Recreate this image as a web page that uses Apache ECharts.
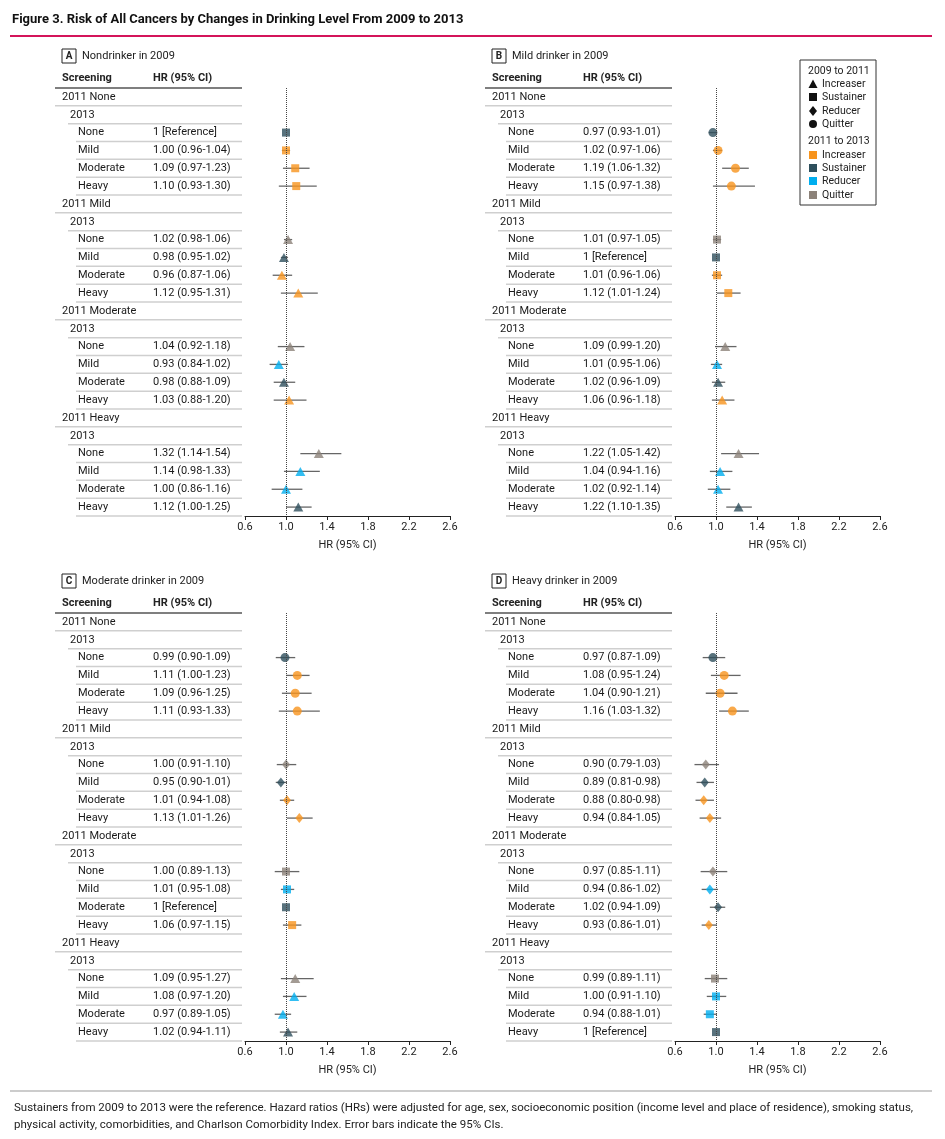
<!DOCTYPE html>
<html><head><meta charset="utf-8">
<script src="https://cdn.jsdelivr.net/npm/echarts@6/dist/echarts.min.js"></script>
<style>html,body{margin:0;padding:0;background:#fff}#c{width:945px;height:1139px}</style>
</head><body><div id="c"></div>
<script>
const levels = ['None','Mild','Moderate','Heavy'];
const panelTitles = ['Nondrinker in 2009','Mild drinker in 2009','Moderate drinker in 2009','Heavy drinker in 2009'];
const panelLetters = ['A','B','C','D'];
const tickLabels = ['0.6','1.0','1.4','1.8','2.2','2.6'];
// order: 2011 None (2013 None,Mild,Mod,Heavy), 2011 Mild, 2011 Moderate, 2011 Heavy ; null = reference
const A_hr = [1,1.00,1.09,1.10, 1.02,0.98,0.96,1.12, 1.04,0.93,0.98,1.03, 1.32,1.14,1.00,1.12];
const A_lo = [null,0.96,0.97,0.93, 0.98,0.95,0.87,0.95, 0.92,0.84,0.88,0.88, 1.14,0.98,0.86,1.00];
const A_hi = [null,1.04,1.23,1.30, 1.06,1.02,1.06,1.31, 1.18,1.02,1.09,1.20, 1.54,1.33,1.16,1.25];
const B_hr = [0.97,1.02,1.19,1.15, 1.01,1,1.01,1.12, 1.09,1.01,1.02,1.06, 1.22,1.04,1.02,1.22];
const B_lo = [0.93,0.97,1.06,0.97, 0.97,null,0.96,1.01, 0.99,0.95,0.96,0.96, 1.05,0.94,0.92,1.10];
const B_hi = [1.01,1.06,1.32,1.38, 1.05,null,1.06,1.24, 1.20,1.06,1.09,1.18, 1.42,1.16,1.14,1.35];
const C_hr = [0.99,1.11,1.09,1.11, 1.00,0.95,1.01,1.13, 1.00,1.01,1,1.06, 1.09,1.08,0.97,1.02];
const C_lo = [0.90,1.00,0.96,0.93, 0.91,0.90,0.94,1.01, 0.89,0.95,null,0.97, 0.95,0.97,0.89,0.94];
const C_hi = [1.09,1.23,1.25,1.33, 1.10,1.01,1.08,1.26, 1.13,1.08,null,1.15, 1.27,1.20,1.05,1.11];
const D_hr = [0.97,1.08,1.04,1.16, 0.90,0.89,0.88,0.94, 0.97,0.94,1.02,0.93, 0.99,1.00,0.94,1];
const D_lo = [0.87,0.95,0.90,1.03, 0.79,0.81,0.80,0.84, 0.85,0.86,0.94,0.86, 0.89,0.91,0.88,null];
const D_hi = [1.09,1.24,1.21,1.32, 1.03,0.98,0.98,1.05, 1.11,1.02,1.09,1.01, 1.11,1.10,1.01,null];
const panels = [[A_hr,A_lo,A_hi],[B_hr,B_lo,B_hi],[C_hr,C_lo,C_hi],[D_hr,D_lo,D_hi]];

const COL = {inc:'#f7941d', sus:'#2e4f5c', red:'#00aeef', quit:'#8c8279'};
const FONT = 'Roboto, "Liberation Sans", sans-serif';

// rows
const rows = [];
levels.forEach((g,gi)=>{
  rows.push({label:'2011 '+g, level:0});
  rows.push({label:'2013', level:1});
  levels.forEach((k,ki)=>rows.push({label:k, level:2, g:gi, k:ki}));
});
const cats = rows.map((r,i)=>String(i));

const pos = [
  {tl:62, pl:245, top:88},
  {tl:492, pl:675, top:88},
  {tl:62, pl:245, top:613},
  {tl:492, pl:675, top:613}
];
const H = 428;

const grids=[], xAxes=[], yAxes=[], series=[], graphics=[];
function shapeFor(p,g){ if(g>p) return 'triangle'; if(g===p) return 'rect'; if(g>0) return 'diamond'; return 'circle'; }
function colorFor(g,k){ if(k>g) return COL.inc; if(k===g) return COL.sus; if(k>0) return COL.red; return COL.quit; }

panels.forEach((pd,p)=>{
  const [hr,lo,hi] = pd;
  const P = pos[p];
  // table grid
  grids.push({left:P.tl, top:P.top, width:190, height:H});
  xAxes.push({type:'value', gridIndex:2*p, min:0, max:190, show:false});
  yAxes.push({type:'category', gridIndex:2*p, data:cats, inverse:true, show:false});
  // plot grid
  grids.push({left:P.pl, top:P.top, width:205, height:H});
  xAxes.push({type:'value', gridIndex:2*p+1, min:0.6, max:2.6, interval:0.4,
    axisLine:{show:true, lineStyle:{color:'#222', width:1}},
    axisTick:{show:true, length:4, lineStyle:{color:'#222'}},
    splitLine:{show:false},
    axisLabel:{color:'#222', fontSize:11, fontFamily:FONT, margin:6,
      formatter:v=>{const s=v.toFixed(1); return tickLabels.includes(s)?s:'';}},
    name:'HR (95% CI)', nameLocation:'middle', nameGap:24,
    nameTextStyle:{color:'#222', fontSize:11, fontFamily:FONT}});
  yAxes.push({type:'category', gridIndex:2*p+1, data:cats, inverse:true, show:false});

  // table text
  const tdata = rows.map((r,i)=>{
    let t2='';
    if(r.level===2){ const j=r.g*4+r.k;
      t2 = lo[j]===null ? '1 [Reference]' : `${hr[j].toFixed(2)} (${lo[j].toFixed(2)}-${hi[j].toFixed(2)})`; }
    return {value:[0,i], t1:r.label, t2:t2, lv:r.level};
  });
  series.push({type:'custom', xAxisIndex:2*p, yAxisIndex:2*p, silent:true, data:tdata,
    renderItem:(params,api)=>{
      const d = tdata[params.dataIndex];
      const c = api.coord([0, d.value[1]]);
      const band = api.size([0,1])[1];
      const ind = [0,8,16][d.lv];
      const ls = [-7,6,14][d.lv];
      const ch = [
        {type:'text', x:c[0]+ind, y:c[1], style:{text:d.t1, fill:'#1a1a1a', font:'11px '+FONT, textVerticalAlign:'middle'}},
        {type:'line', shape:{x1:c[0]+ls, y1:c[1]+band/2, x2:c[0]+180, y2:c[1]+band/2}, style:{stroke:'#cfcfcf', lineWidth:1.5}}
      ];
      if(d.t2) ch.push({type:'text', x:c[0]+91, y:c[1], style:{text:d.t2, fill:'#1a1a1a', font:'11px '+FONT, textVerticalAlign:'middle'}});
      return {type:'group', children:ch};
    }});

  // error bars & points
  const eb=[], pts=[];
  rows.forEach((r,i)=>{
    if(r.level!==2) return;
    const j=r.g*4+r.k;
    if(lo[j]!==null) eb.push([lo[j],hi[j],i]);
    const sym = shapeFor(p,r.g);
    pts.push({value:[hr[j],i], symbol:sym,
      symbolSize: sym==='triangle'?[10,9]:sym==='diamond'?[8,10]:sym==='rect'?8:9,
      itemStyle:{color:colorFor(r.g,r.k)}});
  });
  series.push({type:'custom', xAxisIndex:2*p+1, yAxisIndex:2*p+1, silent:true, data:eb, z:2,
    encode:{x:[0,1], y:2},
    renderItem:(params,api)=>{
      const a=api.coord([api.value(0),api.value(2)]), b=api.coord([api.value(1),api.value(2)]);
      return {type:'line', shape:{x1:a[0],y1:a[1],x2:b[0],y2:b[1]}, style:{stroke:'#666', lineWidth:1.3}};
    }});
  series.push({type:'scatter', xAxisIndex:2*p+1, yAxisIndex:2*p+1, data:pts, z:3, silent:true,
    markLine:{silent:true, symbol:'none', label:{show:false},
      lineStyle:{type:'dotted', color:'#444', width:1}, data:[{xAxis:1}]}});

  // headers
  const ty = P.top - 32;
  graphics.push({type:'rect', shape:{x:P.tl, y:ty-7, width:14, height:14}, style:{fill:'#fff', stroke:'#222', lineWidth:1}});
  graphics.push({type:'text', x:P.tl+7, y:ty, style:{text:panelLetters[p], font:'bold 10px '+FONT, fill:'#222', textAlign:'center', textVerticalAlign:'middle'}});
  graphics.push({type:'text', x:P.tl+20, y:ty, style:{text:panelTitles[p], font:'11px '+FONT, fill:'#222', textVerticalAlign:'middle'}});
  graphics.push({type:'text', x:P.tl, y:P.top-10, style:{text:'Screening', font:'bold 11px '+FONT, fill:'#222', textVerticalAlign:'middle'}});
  graphics.push({type:'text', x:P.tl+91, y:P.top-10, style:{text:'HR (95% CI)', font:'bold 11px '+FONT, fill:'#222', textVerticalAlign:'middle'}});
  graphics.push({type:'line', shape:{x1:P.tl-7, y1:P.top, x2:P.tl+180, y2:P.top}, style:{stroke:'#555', lineWidth:1.5}});
});

// title, footer
graphics.push({type:'text', x:12, y:20, style:{text:'Figure 3. Risk of All Cancers by Changes in Drinking Level From 2009 to 2013', font:'bold 13px '+FONT, fill:'#111', textVerticalAlign:'middle'}});
graphics.push({type:'line', shape:{x1:10, y1:36, x2:932, y2:36}, style:{stroke:'#d4145a', lineWidth:2}});
graphics.push({type:'line', shape:{x1:10, y1:1091, x2:932, y2:1091}, style:{stroke:'#999', lineWidth:1}});
graphics.push({type:'text', x:14, y:1108, style:{text:'Sustainers from 2009 to 2013 were the reference. Hazard ratios (HRs) were adjusted for age, sex, socioeconomic position (income level and place of residence), smoking status,', font:'11.5px '+FONT, fill:'#222', textVerticalAlign:'middle'}});
graphics.push({type:'text', x:14, y:1125, style:{text:'physical activity, comorbidities, and Charlson Comorbidity Index. Error bars indicate the 95% CIs.', font:'11.5px '+FONT, fill:'#222', textVerticalAlign:'middle'}});

// legend
graphics.push({type:'rect', shape:{x:800, y:60, width:76, height:145}, style:{fill:'#fff', stroke:'#333', lineWidth:1}});
const lg = [
  {t:'2009 to 2011', y:71, head:true},
  {t:'Increaser', y:84, s:'tri'}, {t:'Sustainer', y:97, s:'sq'}, {t:'Reducer', y:111, s:'dia'}, {t:'Quitter', y:124, s:'cir'},
  {t:'2011 to 2013', y:141, head:true},
  {t:'Increaser', y:155, c:COL.inc}, {t:'Sustainer', y:168, c:COL.sus}, {t:'Reducer', y:181, c:COL.red}, {t:'Quitter', y:195, c:COL.quit}
];
lg.forEach(e=>{
  graphics.push({type:'text', x:e.head?808:822, y:e.y, style:{text:e.t, font:'10.5px '+FONT, fill:'#222', textVerticalAlign:'middle'}});
  const cx=813, cy=e.y;
  if(e.s==='tri') graphics.push({type:'polygon', shape:{points:[[cx,cy-4.5],[cx+4.5,cy+4],[cx-4.5,cy+4]]}, style:{fill:'#111'}});
  if(e.s==='sq') graphics.push({type:'rect', shape:{x:cx-4,y:cy-4,width:8,height:8}, style:{fill:'#111'}});
  if(e.s==='dia') graphics.push({type:'polygon', shape:{points:[[cx,cy-5],[cx+4,cy],[cx,cy+5],[cx-4,cy]]}, style:{fill:'#111'}});
  if(e.s==='cir') graphics.push({type:'circle', shape:{cx:cx,cy:cy,r:4}, style:{fill:'#111'}});
  if(e.c) graphics.push({type:'rect', shape:{x:cx-4,y:cy-4,width:8,height:8}, style:{fill:e.c}});
});

const chart = echarts.init(document.getElementById('c'));
chart.setOption({animation:false, backgroundColor:'#fff', grid:grids, xAxis:xAxes, yAxis:yAxes, series:series, graphic:graphics});
</script></body></html>
